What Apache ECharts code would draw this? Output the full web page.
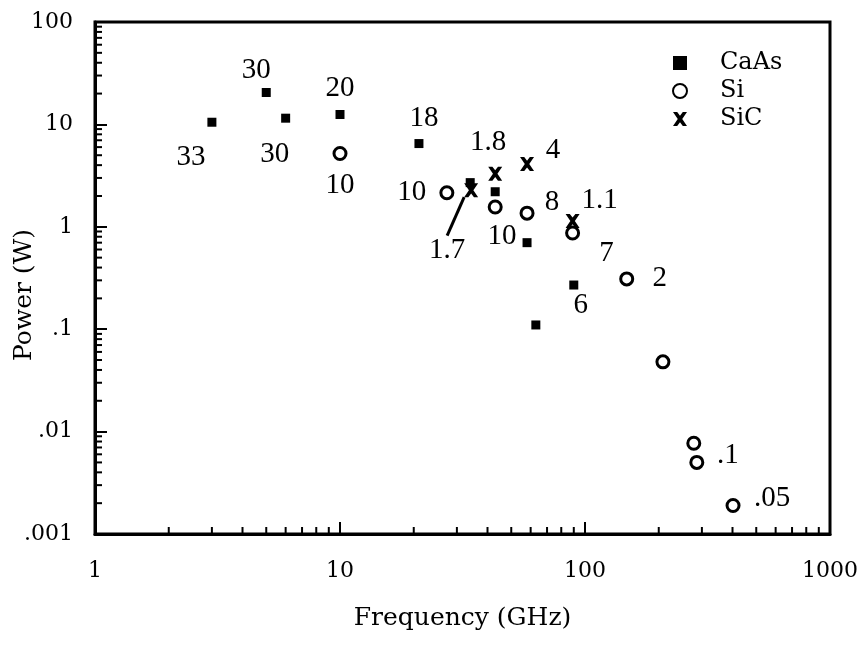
<!DOCTYPE html>
<html>
<head>
<meta charset="utf-8">
<script src="https://cdn.jsdelivr.net/npm/echarts@6/dist/echarts.min.js"></script>
<style>html,body{margin:0;padding:0;background:#fff}#c{width:866px;height:647px}</style>
</head>
<body>
<div id="c"></div>
<script>
// ---- data ----
const gaasFreq   = [3, 5, 6, 10, 21, 34, 43, 58, 63, 90];
const gaasPower  = [10.5, 20.5, 11.5, 12.5, 6.5, 2.7, 2.2, 0.7, 0.11, 0.27];
const gaasLabels = ["33", "30", "30", "20", "18", "", "", "10", "", "6"];

const siFreq   = [10, 27.3, 43, 58, 89, 148, 208, 278, 286, 402];
const siPower  = [5.2, 2.15, 1.56, 1.36, 0.87, 0.31, 0.048, 0.0077, 0.005, 0.0019];
const siLabels = ["10", "10", "", "8", "7", "2", "", "", ".1", ".05"];

const sicFreq   = [34.3, 43, 58, 89];
const sicPower  = [2.28, 3.3, 4.1, 1.14];
const sicLabels = ["1.7", "1.8", "4", "1.1"];

const xTickLabels = {0: "1", 1: "10", 2: "100", 3: "1000"};
const yTickLabels = {"-3": ".001", "-2": ".01", "-1": ".1", "0": "1", "1": "10", "2": "100"};

// ---- annotation layout (label offsets in px) ----
const gaasOffsets = [[-21,35],[-10,-22],[-11,36],[0,-26],[5,-25],[0,0],[0,0],[-25,-6],[0,0],[7,20]];
const siOffsets   = [[0,32],[-35,0],[0,0],[25,-11],[34,20],[33,0],[0,0],[0,0],[31,-7],[39,-7]];
const sicOffsets  = [[-24,60],[-7,-31],[26,-14],[27,-21]];
const sicLeaderIndex = 0;

const minorMult = [2,3,4,5,6,7,8,9];
const xDecades = [1, 10, 100];
const yDecades = [0.001, 0.01, 0.1, 1, 10];
const xMinor = [], yMinor = [];
xDecades.forEach(d => minorMult.forEach(m => xMinor.push([d*m, 0.001])));
yDecades.forEach(d => minorMult.forEach(m => yMinor.push([1, d*m])));

const annFont = 'Liberation Serif';
const tickFont = 'DejaVu Serif';

function pts(fx, py, labels, offsets) {
  return fx.map((f, i) => ({
    value: [f, py[i]],
    label: {show: labels[i] !== "", formatter: labels[i], offset: offsets[i]}
  }));
}

const chart = echarts.init(document.getElementById('c'), null, {renderer: 'canvas'});

const xPath = 'path://M0,0 L3,0 L5,2.6 L7,0 L10,0 L6.6,5 L10,10 L7,10 L5,7.4 L3,10 L0,10 L3.4,5 Z';

function tickSeries(data, dir) {
  return {
    type: 'custom', silent: true, clip: false, z: 5,
    data: data,
    renderItem: function (params, api) {
      const p = api.coord([api.value(0), api.value(1)]);
      const shape = dir === 'up'
        ? {x1: p[0], y1: p[1], x2: p[0], y2: p[1] - 7}
        : {x1: p[0], y1: p[1], x2: p[0] + 7, y2: p[1]};
      return {type: 'line', shape: shape, style: {stroke: '#000', lineWidth: 2}};
    }
  };
}

const labelBase = {
  show: true, position: 'inside', color: '#000',
  fontFamily: annFont, fontSize: 29
};

const sicMain = pts(sicFreq, sicPower, sicLabels, sicOffsets).filter((d, i) => i !== sicLeaderIndex);
const sicLead = [{value: [sicFreq[sicLeaderIndex], sicPower[sicLeaderIndex]],
                  label: {show: true, formatter: sicLabels[sicLeaderIndex]}}];
const sicLeadOffset = sicOffsets[sicLeaderIndex];

const sicStyle = {color: '#000', opacity: 1};

chart.setOption({
  animation: false,
  backgroundColor: '#fff',
  grid: {left: 95, right: 36, top: 22, bottom: 113, containLabel: false, outerBoundsMode: 'none',
         show: true, borderColor: '#000', borderWidth: 3},
  legend: {
    orient: 'vertical', left: 667, top: 46, itemGap: 4,
    itemWidth: 14, itemHeight: 14,
    data: ['CaAs', 'Si', 'SiC'],
    textStyle: {fontFamily: tickFont, fontSize: 24, color: '#000', padding: [0, 0, 0, 28]}
  },
  xAxis: {
    type: 'log', logBase: 10, min: 1, max: 1000,
    name: 'Frequency (GHz)', nameLocation: 'middle', nameGap: 72, nameMoveOverlap: false,
    nameTextStyle: {fontFamily: tickFont, fontSize: 25, color: '#000'},
    axisLine: {lineStyle: {color: '#000', width: 3}},
    axisTick: {inside: true, length: 12, lineStyle: {width: 2, color: '#000'}},
    splitLine: {show: false},
    axisLabel: {
      margin: 26, fontFamily: tickFont, fontSize: 22, color: '#000',
      formatter: v => xTickLabels[Math.round(Math.log10(v))]
    }
  },
  yAxis: {
    type: 'log', logBase: 10, min: 0.001, max: 100,
    name: 'Power (W)', nameLocation: 'middle', nameGap: 58, nameRotate: 90, nameMoveOverlap: false,
    nameTextStyle: {fontFamily: tickFont, fontSize: 25, color: '#000', padding: [0, 34, 0, 0]},
    axisLine: {lineStyle: {color: '#000', width: 3}},
    axisTick: {inside: true, length: 12, lineStyle: {width: 2, color: '#000'}},
    splitLine: {show: false},
    axisLabel: {
      margin: 22, fontFamily: tickFont, fontSize: 22, color: '#000',
      formatter: v => yTickLabels[String(Math.round(Math.log10(v)))]
    }
  },
  series: [
    {
      name: 'CaAs', type: 'scatter', symbol: 'rect', symbolSize: 9,
      itemStyle: {color: '#000', opacity: 1},
      label: labelBase,
      data: pts(gaasFreq, gaasPower, gaasLabels, gaasOffsets)
    },
    {
      name: 'Si', type: 'scatter', symbol: 'circle', symbolSize: 12,
      itemStyle: {color: '#fff', borderColor: '#000', borderWidth: 3, opacity: 1},
      label: labelBase,
      data: pts(siFreq, siPower, siLabels, siOffsets)
    },
    {
      name: 'SiC', type: 'scatter', symbol: xPath, symbolSize: 14,
      itemStyle: sicStyle,
      label: labelBase,
      data: sicMain
    },
    {
      name: 'SiC', type: 'scatter', symbol: xPath, symbolSize: 14,
      itemStyle: sicStyle,
      label: labelBase,
      labelLine: {show: true, lineStyle: {color: '#000', width: 3, opacity: 1}},
      labelLayout: function () { return {dx: sicLeadOffset[0], dy: sicLeadOffset[1]}; },
      data: sicLead
    },
    tickSeries(xMinor, 'up'),
    tickSeries(yMinor, 'right')
  ]
});
</script>
</body>
</html>
